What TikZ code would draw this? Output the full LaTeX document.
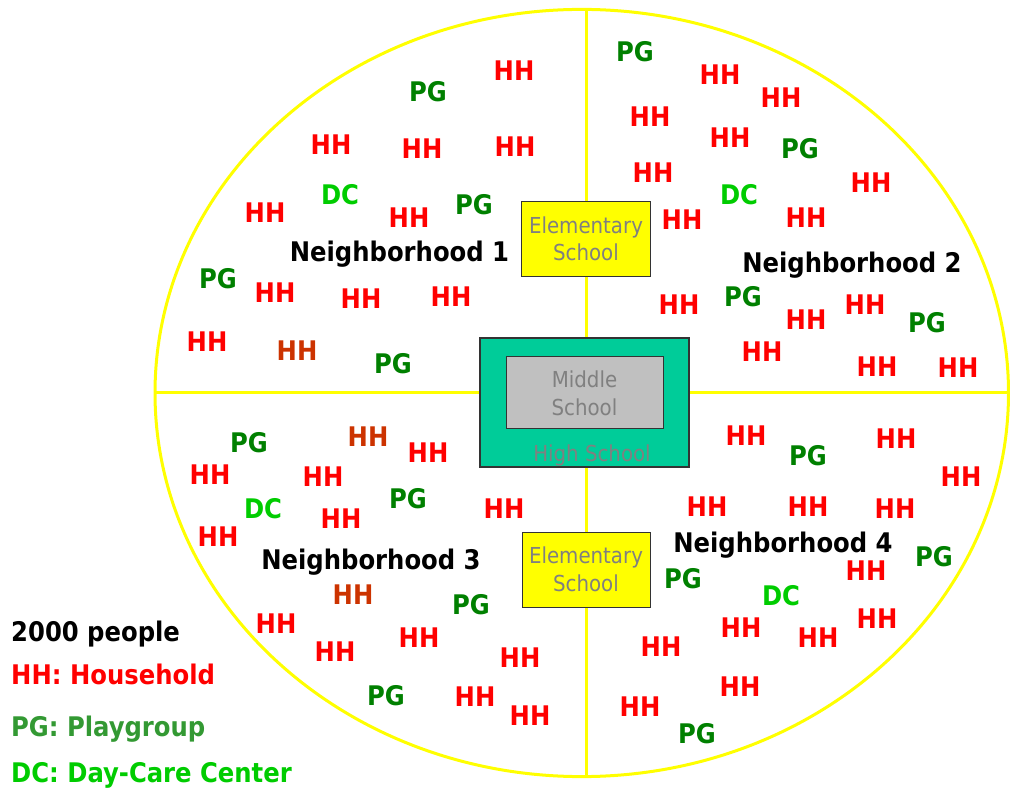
\documentclass[tikz,border=0pt]{standalone}
\usepackage{fontspec}
\newfontfamily\lblfont{DejaVu Sans Condensed}
\definecolor{hhred}{HTML}{FF0000}
\definecolor{hhbrown}{HTML}{CC3300}
\definecolor{pggreen}{HTML}{008000}
\definecolor{dcgreen}{HTML}{00CC00}
\definecolor{legpg}{HTML}{339933}
\definecolor{schooltext}{HTML}{808080}
\definecolor{hsfill}{HTML}{00CC99}
\definecolor{msfill}{HTML}{C0C0C0}
\definecolor{lineyellow}{HTML}{FFFF00}
\definecolor{boxedge}{HTML}{333333}
\begin{document}
\begin{tikzpicture}[x=1pt,y=-1pt,
  lbl/.style={font=\lblfont\bfseries\fontsize{27}{27}\selectfont, inner sep=0pt, text height=19.7pt, text depth=0pt},
  hh/.style={lbl, text=hhred},
  hhb/.style={lbl, text=hhbrown},
  pg/.style={lbl, text=pggreen},
  dc/.style={lbl, text=dcgreen},
  hood/.style={lbl, text=black},
  legend/.style={lbl, anchor=west},
  boundary/.style={draw=lineyellow, line width=3pt},
  schoolbox/.style={draw=boxedge, line width=1pt, inner sep=0pt},
  schooltxt/.style={font=\lblfont\fontsize{22}{22}\selectfont, text=schooltext, inner sep=0pt, text height=16pt, text depth=0pt}
]
\useasboundingbox (0,0) rectangle (1010,791);

% town boundary and the four neighbourhood dividers
\draw[boundary] (581.75,393) ellipse [x radius=426.75, y radius=383.6];
\coordinate (ntop) at (586,10);
\coordinate (nbot) at (586,776);
\coordinate (wend) at (155,393);
\coordinate (eend) at (1008.5,393);
\draw[boundary] (ntop) -- (nbot);
\draw[boundary] (wend) -- (eend);

% schools
\node[schoolbox, fill=lineyellow, minimum width=129pt, minimum height=75pt] (es1) at (585.5,239.5) {};
\node[schooltxt] (es1a) at (586,226) {Elementary};
\node[schooltxt] (es1b) at (586,253) {School};

\node[schoolbox, fill=hsfill, line width=1.5pt, minimum width=209pt, minimum height=129pt] (hs) at (584.5,402.5) {};
\node[schoolbox, fill=msfill, minimum width=157pt, minimum height=72pt] (ms) at (584.5,393) {};
\node[schooltxt] (msa) at (584.5,380) {Middle};
\node[schooltxt] (msb) at (584.5,408) {School};
\node[schooltxt] (hst) at (592,454) {High School};

\node[schoolbox, fill=lineyellow, minimum width=128pt, minimum height=75pt] (es2) at (586,569.5) {};
\node[schooltxt] (es2a) at (586,555) {Elementary};
\node[schooltxt] (es2b) at (586,583) {School};

% households
\foreach \p [count=\i] in {
  (514,71),(331,145),(422,149),(515,147),(265,213),(409,218),(275,293),(361,299),(451,297),(207,342),
  (720,75),(781,98),(650,117),(730,138),(653,173),(871,183),(682,220),(806,218),(679,305),(865,305),
  (806,320),(762,352),(877,367),(958,368),
  (428,453),(210,475),(323,477),(341,519),(504,509),(218,537),(276,624),(419,638),(335,652),(520,658),
  (475,697),(530,716),
  (746,436),(896,439),(961,477),(707,507),(808,507),(895,509),(866,571),(877,619),(741,628),(818,638),
  (661,647),(740,687),(640,707)}
  \node[hh] (hh\i) at \p {HH};
\foreach \p [count=\i] in {(297,351),(368,437),(353,595)}
  \node[hhb] (hhb\i) at \p {HH};

% playgroups
\foreach \p [count=\i] in {
  (428,92),(474,205),(218,279),(393,364),(635,52),(800,149),(743,297),(927,323),
  (249,443),(408,499),(471,605),(386,696),(808,456),(934,557),(683,579),(697,734)}
  \node[pg] (pg\i) at \p {PG};

% day-care centres
\foreach \p [count=\i] in {(340,195),(739,195),(263,509),(781,596)}
  \node[dc] (dc\i) at \p {DC};

% neighbourhood names
\node[hood] (n1) at (399.5,252) {Neighborhood 1};
\node[hood] (n2) at (852,263) {Neighborhood 2};
\node[hood] (n3) at (371,560) {Neighborhood 3};
\node[hood] (n4) at (783,543) {Neighborhood 4};

% legend
\node[legend, text=black] (lg0) at (11,632) {2000 people};
\node[legend, text=hhred] (lg1) at (11,675) {HH: Household};
\node[legend, text=legpg] (lg2) at (11,727) {PG: Playgroup};
\node[legend, text=dcgreen] (lg3) at (11,773) {DC: Day-Care Center};
\end{tikzpicture}
\end{document}
